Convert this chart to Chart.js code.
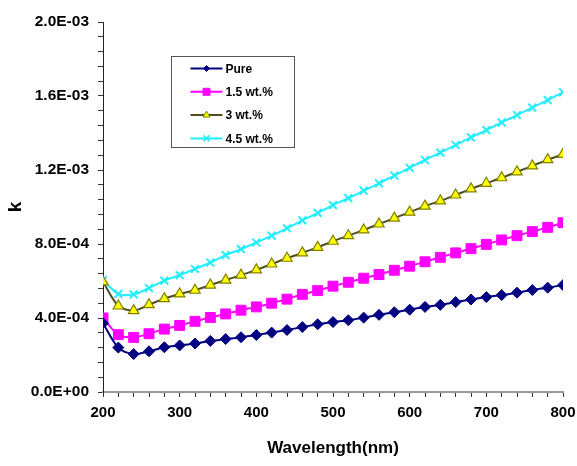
<!DOCTYPE html>
<html>
<head>
<meta charset="utf-8">
<script src="https://cdn.jsdelivr.net/npm/chart.js@4"></script>
<style>
  html, body { margin: 0; padding: 0; background: #fff; }
  #wrap { width: 577px; height: 466px; }
</style>
</head>
<body>
<div id="wrap"><canvas id="kChart" width="577" height="466"></canvas></div>
<script>
// wavelength (nm), every 20 nm
const wavelengths = [200, 220, 240, 260, 280, 300, 320, 340, 360, 380, 400, 420, 440, 460, 480, 500,
    520, 540, 560, 580, 600, 620, 640, 660, 680, 700, 720, 740, 760, 780, 800];

// extinction coefficient k
const pure = [3.72e-4, 2.40e-4, 2.05e-4, 2.20e-4, 2.42e-4, 2.52e-4, 2.62e-4, 2.76e-4, 2.86e-4, 2.96e-4,
    3.08e-4, 3.21e-4, 3.35e-4, 3.51e-4, 3.66e-4, 3.78e-4, 3.88e-4, 4.02e-4, 4.17e-4, 4.31e-4, 4.45e-4,
    4.60e-4, 4.71e-4, 4.86e-4, 5.00e-4, 5.13e-4, 5.24e-4, 5.37e-4, 5.51e-4, 5.64e-4, 5.78e-4];
const wt15 = [4.00e-4, 3.10e-4, 2.95e-4, 3.15e-4, 3.40e-4, 3.60e-4, 3.82e-4, 4.03e-4, 4.22e-4, 4.42e-4,
    4.60e-4, 4.80e-4, 5.02e-4, 5.28e-4, 5.48e-4, 5.72e-4, 5.93e-4, 6.15e-4, 6.35e-4, 6.58e-4, 6.80e-4,
    7.04e-4, 7.28e-4, 7.52e-4, 7.75e-4, 7.98e-4, 8.22e-4, 8.45e-4, 8.67e-4, 8.90e-4, 9.15e-4];
const wt3 = [5.95e-4, 4.65e-4, 4.40e-4, 4.72e-4, 5.05e-4, 5.30e-4, 5.50e-4, 5.78e-4, 6.05e-4, 6.32e-4,
    6.60e-4, 6.92e-4, 7.23e-4, 7.52e-4, 7.82e-4, 8.15e-4, 8.45e-4, 8.76e-4, 9.08e-4, 9.40e-4, 9.72e-4,
    10.05e-4, 10.33e-4, 10.65e-4, 10.98e-4, 11.28e-4, 11.58e-4, 11.90e-4, 12.22e-4, 12.56e-4, 12.85e-4];
const wt45 = [6.05e-4, 5.30e-4, 5.28e-4, 5.62e-4, 6.02e-4, 6.32e-4, 6.65e-4, 7.00e-4, 7.40e-4, 7.72e-4,
    8.08e-4, 8.45e-4, 8.85e-4, 9.28e-4, 9.68e-4, 10.10e-4, 10.48e-4, 10.88e-4, 11.28e-4, 11.70e-4, 12.12e-4,
    12.54e-4, 12.94e-4, 13.35e-4, 13.76e-4, 14.16e-4, 14.57e-4, 14.97e-4, 15.37e-4, 15.78e-4, 16.20e-4];

const seriesNames = ['Pure', '1.5 wt.%', '3 wt.%', '4.5 wt.%'];

const FONT = "'Liberation Sans', Arial, sans-serif";

// 2.0E-03 style labels
const sciLabel = (v) => {
    const [m, e] = Number(v).toExponential(1).split('e');
    return m + 'E' + e[0] + e.slice(1).padStart(2, '0');
};

const toPoints = (arr) => arr.map((y, i) => ({ x: wavelengths[i], y: y }));

// draws a small marker, same shapes as chart.js point styles
const drawMarker = (ctx, style, x, y, r) => {
    ctx.beginPath();
    if (style === 'rectRot') {
        ctx.moveTo(x, y - r); ctx.lineTo(x + r, y); ctx.lineTo(x, y + r); ctx.lineTo(x - r, y);
        ctx.closePath(); ctx.fill(); ctx.stroke();
    } else if (style === 'rect') {
        ctx.rect(x - r, y - r, 2 * r, 2 * r); ctx.fill(); ctx.stroke();
    } else if (style === 'triangle') {
        ctx.moveTo(x, y - r); ctx.lineTo(x + r * 0.87, y + r * 0.5); ctx.lineTo(x - r * 0.87, y + r * 0.5);
        ctx.closePath(); ctx.fill(); ctx.stroke();
    } else {
        ctx.moveTo(x - r, y - r); ctx.lineTo(x + r, y + r);
        ctx.moveTo(x + r, y - r); ctx.lineTo(x - r, y + r);
        ctx.stroke();
    }
};

// boxed legend inside the plot, upper left
const boxLegend = {
    id: 'boxLegend',
    afterDatasetsDraw(chart) {
        const ctx = chart.ctx;
        const a = chart.chartArea;
        const bx = a.left + 68.5, by = a.top + 34.5, bw = 123, bh = 91;
        ctx.save();
        ctx.fillStyle = '#fff';
        ctx.fillRect(bx, by, bw, bh);
        ctx.strokeStyle = '#555';
        ctx.lineWidth = 1;
        ctx.strokeRect(bx, by, bw, bh);
        const sizes = [3, 3.5, 4, 3];
        chart.data.datasets.forEach((ds, i) => {
            const y = by + 12 + i * 23.3;
            ctx.strokeStyle = ds.borderColor;
            ctx.lineWidth = 2;
            ctx.beginPath();
            ctx.moveTo(bx + 19, y);
            ctx.lineTo(bx + 51, y);
            ctx.stroke();
            ctx.fillStyle = ds.pointBackgroundColor;
            ctx.strokeStyle = ds.pointBorderColor;
            ctx.lineWidth = ds.pointStyle === 'crossRot' ? 1.5 : 1;
            drawMarker(ctx, ds.pointStyle, bx + 35, y, sizes[i]);
            ctx.fillStyle = '#000';
            ctx.font = 'bold 12px ' + FONT;
            ctx.textBaseline = 'middle';
            ctx.fillText(ds.label, bx + 54, y + 1);
        });
        ctx.restore();
    }
};

const ctx = document.getElementById('kChart').getContext('2d');
new Chart(ctx, {
    type: 'line',
    data: {
        datasets: [
            {
                label: seriesNames[0], data: toPoints(pure),
                borderColor: '#000080', borderWidth: 2,
                pointStyle: 'rectRot', pointRadius: 5.5,
                pointBackgroundColor: '#000080', pointBorderColor: '#000080', pointBorderWidth: 1
            },
            {
                label: seriesNames[1], data: toPoints(wt15),
                borderColor: '#ff00ff', borderWidth: 2,
                pointStyle: 'rect', pointRadius: 7,
                pointBackgroundColor: '#ff00ff', pointBorderColor: '#ff00ff', pointBorderWidth: 1
            },
            {
                label: seriesNames[2], data: toPoints(wt3),
                borderColor: '#4f4f1f', borderWidth: 2,
                pointStyle: 'triangle', pointRadius: 6,
                pointBackgroundColor: '#ffff00', pointBorderColor: '#808000', pointBorderWidth: 1.2
            },
            {
                label: seriesNames[3], data: toPoints(wt45),
                borderColor: '#22eeff', borderWidth: 2,
                pointStyle: 'crossRot', pointRadius: 5.5,
                pointBackgroundColor: '#22eeff', pointBorderColor: '#22eeff', pointBorderWidth: 2
            }
        ]
    },
    options: {
        responsive: false,
        animation: false,
        layout: { padding: { left: 0, right: 14, top: 22, bottom: 0 } },
        elements: { line: { tension: 0.3 } },
        plugins: { legend: { display: false }, tooltip: { enabled: false } },
        scales: {
            x: {
                type: 'linear',
                min: 200, max: 800,
                afterFit: (s) => { s.height = 74; s.paddingLeft = 0; s.paddingRight = 0; },
                grid: { drawOnChartArea: false, tickLength: 5, tickColor: '#333', tickWidth: 1 },
                border: { color: '#999', width: 2 },
                ticks: {
                    stepSize: 20, autoSkip: false, maxRotation: 0, padding: 7,
                    color: '#000', font: { family: FONT, size: 15, weight: 'bold' },
                    callback: (v) => (v % 100 === 0 ? String(v) : '')
                },
                title: {
                    display: true, text: 'Wavelength(nm)', color: '#000',
                    font: { family: FONT, size: 17, weight: 'bold' },
                    padding: { top: 0, bottom: 7 }
                }
            },
            y: {
                min: 0, max: 0.002,
                afterFit: (s) => { s.width = 103; s.paddingTop = 0; s.paddingBottom = 0; },
                grid: { drawOnChartArea: false, tickLength: 5, tickColor: '#333', tickWidth: 1 },
                border: { color: '#222', width: 1 },
                ticks: {
                    stepSize: 0.00008, autoSkip: false, padding: 9,
                    color: '#000', font: { family: FONT, size: 15.5, weight: 'bold' },
                    callback: (v) => (Math.round(v / 0.00008) % 5 === 0 ? sciLabel(v) : '')
                },
                title: {
                    display: true, text: 'k', color: '#000',
                    font: { family: FONT, size: 19, weight: 'bold' },
                    padding: { top: 4, bottom: 0 }
                }
            }
        }
    },
    plugins: [boxLegend]
});
</script>
</body>
</html>
